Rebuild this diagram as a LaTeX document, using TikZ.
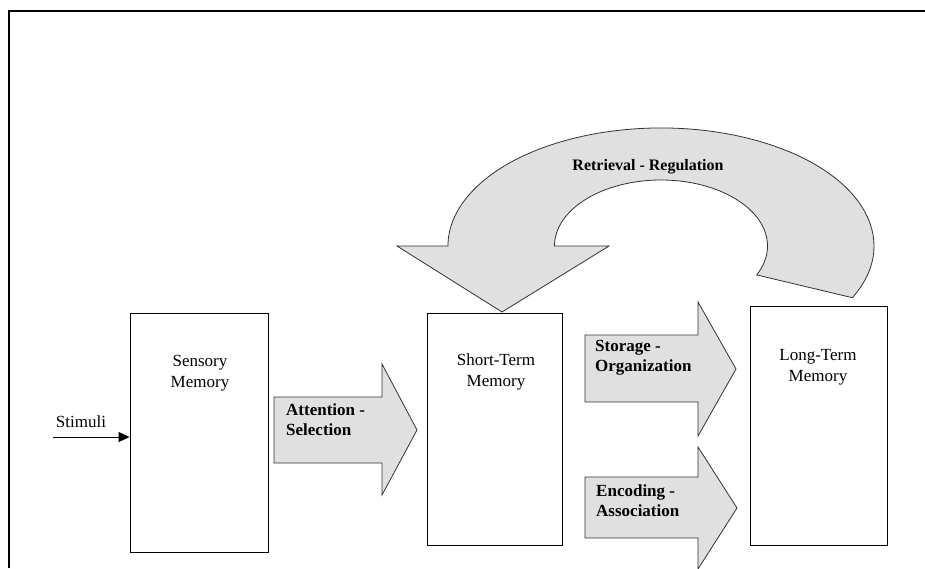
\documentclass[tikz,border=0pt]{standalone}
\usepackage{fontspec}
\setmainfont{Liberation Serif}
\usetikzlibrary{arrows.meta}
\definecolor{arrowfill}{HTML}{E0E0E0}
\definecolor{arrowline}{HTML}{333333}
\begin{document}
\begin{tikzpicture}[x=1pt,y=1pt,yscale=-1,
  memorybox/.style={draw=black, line width=0.9pt, minimum width=#1, inner sep=0pt},
  blockarrow/.style={draw=arrowline, fill=arrowfill, line width=0.8pt, line join=miter},
  boxtext/.style={align=center, font=\fontsize{17}{21}\selectfont, inner sep=0pt},
  arrowtext/.style={align=left, anchor=west, font=\fontsize{17}{20}\selectfont\bfseries, inner sep=0pt}]
\useasboundingbox (0,0) rectangle (925,568);
\fill[white] (0,0) rectangle (925,568);
% outer frame
\draw[line width=2pt] (9,568) -- (9,11) -- (925,11);

% memory boxes
\node[memorybox=138, minimum height=239] (sm) at (199,432.5) {};
\node[memorybox=135, minimum height=232] (stm) at (494.5,429) {};
\node[memorybox=137, minimum height=239] (ltm) at (818.5,425.5) {};
\node[boxtext] (smt) at (200,373) {Sensory\\Memory};
\node[boxtext] (stmt) at (496,372) {Short-Term\\Memory};
\node[boxtext] (ltmt) at (818,367) {Long-Term\\Memory};

% stimuli
\coordinate (stin) at (53,437);
\draw[line width=0.9pt, -{Triangle[length=11pt,width=10pt]}] (stin) -- (stin -| sm.west);
\node[font=\fontsize{17}{20}\selectfont, inner sep=0pt] (stl) at (81,422) {Stimuli};

% attention arrow
\draw[blockarrow] (274,397) -- (382,397) -- (382,364) -- (417,430) -- (382,495) -- (382,463) -- (274,463) -- cycle;
\node[arrowtext] (att) at (286,420) {Attention -\\Selection};

% storage arrow
\draw[blockarrow] (585,335) -- (698,335) -- (698,302) -- (736,369) -- (698,436) -- (698,402) -- (585,402) -- cycle;
\node[arrowtext] (sto) at (595,358) {Storage -\\Organization};

% encoding arrow
\draw[blockarrow] (585,477) -- (698,477) -- (698,447) -- (737,508) -- (698,569) -- (698,538) -- (585,538) -- cycle;
\node[arrowtext] (enc) at (596,501) {Encoding -\\Association};

% retrieval curved arrow
\draw[blockarrow] (852.4,297.7) arc[start angle=386, end angle=180, x radius=213, y radius=118]
  -- (397,246) -- (502,312) -- (609,246) -- (554.5,246)
  arc[start angle=180, end angle=386, x radius=106.5, y radius=66] -- cycle;
\node[font=\fontsize{16}{20}\selectfont\bfseries, inner sep=0pt] (ret) at (648,167) {Retrieval - Regulation};
\end{tikzpicture}
\end{document}
